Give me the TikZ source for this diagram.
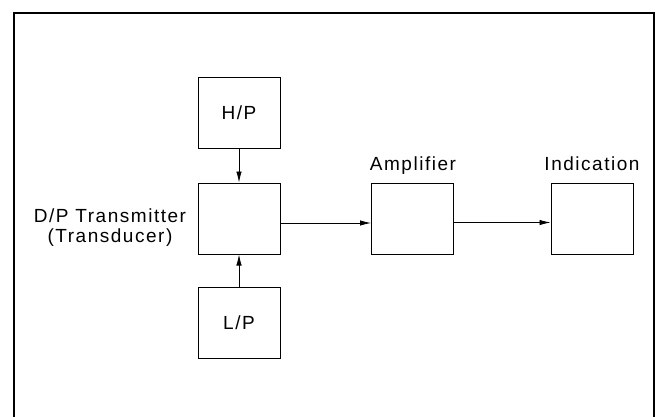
\documentclass[tikz,border=0pt]{standalone}
\usepackage{fontspec}
\setmainfont{Liberation Sans}[LetterSpace=8]
\usetikzlibrary{arrows.meta}
\begin{document}
\begin{tikzpicture}[x=1pt,y=-1pt,
  blk/.style={draw=black,line width=1pt,minimum width=82pt,minimum height=71pt,inner sep=0pt,
    font=\fontsize{19}{20}\selectfont},
  lbl/.style={inner sep=0pt,font=\fontsize{19}{20}\selectfont,align=center},
  conn/.style={line width=0.8pt,-{Latex[length=11pt,width=5.5pt]}},
  frame/.style={line width=2pt,line cap=rect}]
\useasboundingbox (0,0) rectangle (657,416);
\draw[frame] (14,416) -- (14,13) -- (654,13) -- (654,416);
\node[blk] (hp) at (239,112.5) {H/P};
\node[blk] (tx) at (239,218.5) {};
\node[blk] (lp) at (239,322.5) {L/P};
\node[blk] (amp) at (412.5,219) {};
\node[blk] (ind) at (592,219) {};
\node[lbl] (txl) at (110,228) {D/P Transmitter\\(Transducer)};
\node[lbl,anchor=base] (ampl) at (413,170) {Amplifier};
\node[lbl,anchor=base] (indl) at (592,170) {Indication};
\draw[conn] (hp.south) -- (tx.north);
\draw[conn] (lp.north) -- (tx.south);
\draw[conn] ([yshift=-4.5pt]tx.east) -- ([yshift=-4pt]amp.west);
\draw[conn] ([yshift=-3.5pt]amp.east) -- ([yshift=-3.5pt]ind.west);
\end{tikzpicture}
\end{document}
